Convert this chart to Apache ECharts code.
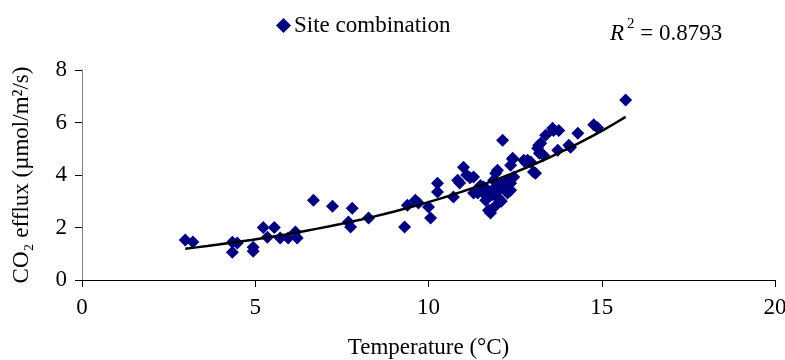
<!DOCTYPE html>
<html>
<head>
<meta charset="utf-8">
<script src="https://cdn.jsdelivr.net/npm/echarts@6/dist/echarts.min.js"></script>
<style>
  html, body { margin: 0; padding: 0; background: #fff; }
  #chart { width: 785px; height: 360px; }
</style>
</head>
<body>
<div id="chart"></div>
<script>
// temperature (°C) and CO2 efflux (umol/m2/s)
var temperature = [
  2.98, 3.2, 4.34, 4.48, 4.34, 4.94, 4.94, 5.23, 5.55, 5.35, 5.72, 5.95, 6.16, 6.21, 6.68,
  7.23, 7.8, 7.69, 7.75, 8.27, 9.31, 9.39, 9.62, 9.71, 10.0, 10.06, 10.26, 10.26, 10.72,
  10.84, 11.01, 11.3, 11.3, 11.59, 11.65, 11.79, 11.79, 11.99, 12.08, 11.99, 12.28, 12.43,
  12.86, 13.09, 11.42, 11.71, 11.88, 12.37, 12.46, 12.37, 12.14, 12.75, 13.03, 12.08, 11.73,
  12.28, 12.37, 11.94, 11.2, 11.5, 11.9, 12.0, 12.1, 11.95, 12.2, 11.6, 11.85, 10.9, 11.1,
  15.69, 14.77, 14.88, 14.31, 14.1, 13.76, 13.58, 13.38, 13.24, 13.15, 13.73, 13.32, 13.18,
  13.61, 13.2, 12.95, 14.05, 12.43, 12.8
];
var efflux = [
  1.52, 1.45, 1.44, 1.41, 1.06, 1.25, 1.10, 2.0, 2.0, 1.63, 1.6, 1.6, 1.83, 1.6, 3.04,
  2.81, 2.73, 2.21, 2.02, 2.36, 2.02, 2.85, 3.04, 2.93, 2.78, 2.36, 3.69, 3.35, 3.16,
  3.8, 4.3, 3.92, 3.31, 3.54, 3.04, 2.66, 2.55, 4.18, 3.69, 3.16, 3.31, 4.64,
  4.56, 4.07, 3.31, 3.42, 3.8, 3.69, 3.92, 4.37, 5.32, 4.56, 4.11, 3.04, 2.66,
  3.8, 3.42, 4.07, 3.9, 3.6, 3.5, 3.4, 3.0, 2.85, 3.6, 3.3, 3.25, 3.7, 4.0,
  6.86, 5.91, 5.8, 5.59, 5.06, 5.7, 5.78, 5.51, 5.21, 5.02, 4.94, 4.75, 5.13,
  5.7, 4.83, 4.5, 5.13, 4.6, 4.49
];
var xTicks = [0, 5, 10, 15, 20];
var yTicks = [0, 2, 4, 6, 8];
var rSquared = '0.8793';

var points = temperature.map(function (t, i) { return [t, efflux[i]]; });

// exponential trendline, least squares on ln(y) like the spreadsheet does
function expFit(xs, ys) {
  var n = xs.length, sx = 0, sy = 0, sxx = 0, sxy = 0;
  for (var i = 0; i < n; i++) {
    var ly = Math.log(ys[i]);
    sx += xs[i]; sy += ly; sxx += xs[i] * xs[i]; sxy += xs[i] * ly;
  }
  var b = (n * sxy - sx * sy) / (n * sxx - sx * sx);
  var a = Math.exp((sy - b * sx) / n);
  return { a: a, b: b };
}
var fit = expFit(temperature, efflux);
var tMin = Math.min.apply(null, temperature), tMax = Math.max.apply(null, temperature);
var trend = [];
for (var k = 0; k <= 40; k++) {
  var t = tMin + (tMax - tMin) * k / 40;
  trend.push([t, fit.a * Math.exp(fit.b * t)]);
}

var font = 'Liberation Serif';
var fs = 23;
var chart = echarts.init(document.getElementById('chart'));
chart.setOption({
  animation: false,
  textStyle: { fontFamily: font, color: '#000' },
  grid: { left: 82, right: 10, top: 70, bottom: 80, outerBoundsMode: 'none', containLabel: false },
  legend: {
    data: ['Site combination'],
    left: 271,
    top: 9,
    icon: 'diamond',
    itemWidth: 15,
    itemHeight: 15,
    itemGap: 4,
    textStyle: { fontFamily: font, fontSize: fs, color: '#000', padding: [0, 0, 0, -2] }
  },
  graphic: [{
    type: 'text',
    left: 610,
    top: 17,
    style: {
      text: '{i|R}{s|2}{n| = ' + rSquared + '}',
      rich: {
        i: { fontFamily: font, fontSize: fs, fontStyle: 'italic', lineHeight: 28, verticalAlign: 'bottom' },
        s: { fontFamily: font, fontSize: 15, lineHeight: 28, verticalAlign: 'top', padding: [0, 0, 0, 3] },
        n: { fontFamily: font, fontSize: fs, lineHeight: 28, verticalAlign: 'bottom' }
      }
    }
  }],
  xAxis: {
    type: 'value',
    min: xTicks[0],
    max: xTicks[xTicks.length - 1],
    interval: 5,
    name: 'Temperature (°C)',
    nameLocation: 'middle',
    nameGap: 56,
    nameTextStyle: { fontFamily: font, fontSize: fs, color: '#000' },
    axisLine: { onZero: false, lineStyle: { color: '#000', width: 1 } },
    axisTick: { show: true, length: 7, lineStyle: { color: '#000' } },
    axisLabel: { fontFamily: font, fontSize: fs, color: '#000', margin: 16 },
    splitLine: { show: false }
  },
  yAxis: {
    type: 'value',
    min: yTicks[0],
    max: yTicks[yTicks.length - 1],
    interval: 2,
    name: 'CO₂ efflux (µmol/m²/s)',
    nameLocation: 'middle',
    nameRotate: 90,
    nameGap: 49,
    nameTextStyle: { fontFamily: font, fontSize: fs, color: '#000' },
    axisLine: { show: true, onZero: false, lineStyle: { color: '#808080', width: 1 } },
    axisTick: { show: true, length: 7, lineStyle: { color: '#000' } },
    axisLabel: { fontFamily: font, fontSize: fs, color: '#000', margin: 15 },
    splitLine: { show: false }
  },
  series: [{
    name: 'Site combination',
    type: 'scatter',
    symbol: 'diamond',
    symbolSize: 13,
    itemStyle: { color: '#000080', opacity: 1 },
    data: points,
    z: 2
  }, {
    name: 'trend',
    type: 'line',
    showSymbol: false,
    smooth: false,
    lineStyle: { color: '#000', width: 2.5 },
    data: trend,
    z: 3
  }]
});
</script>
</body>
</html>
